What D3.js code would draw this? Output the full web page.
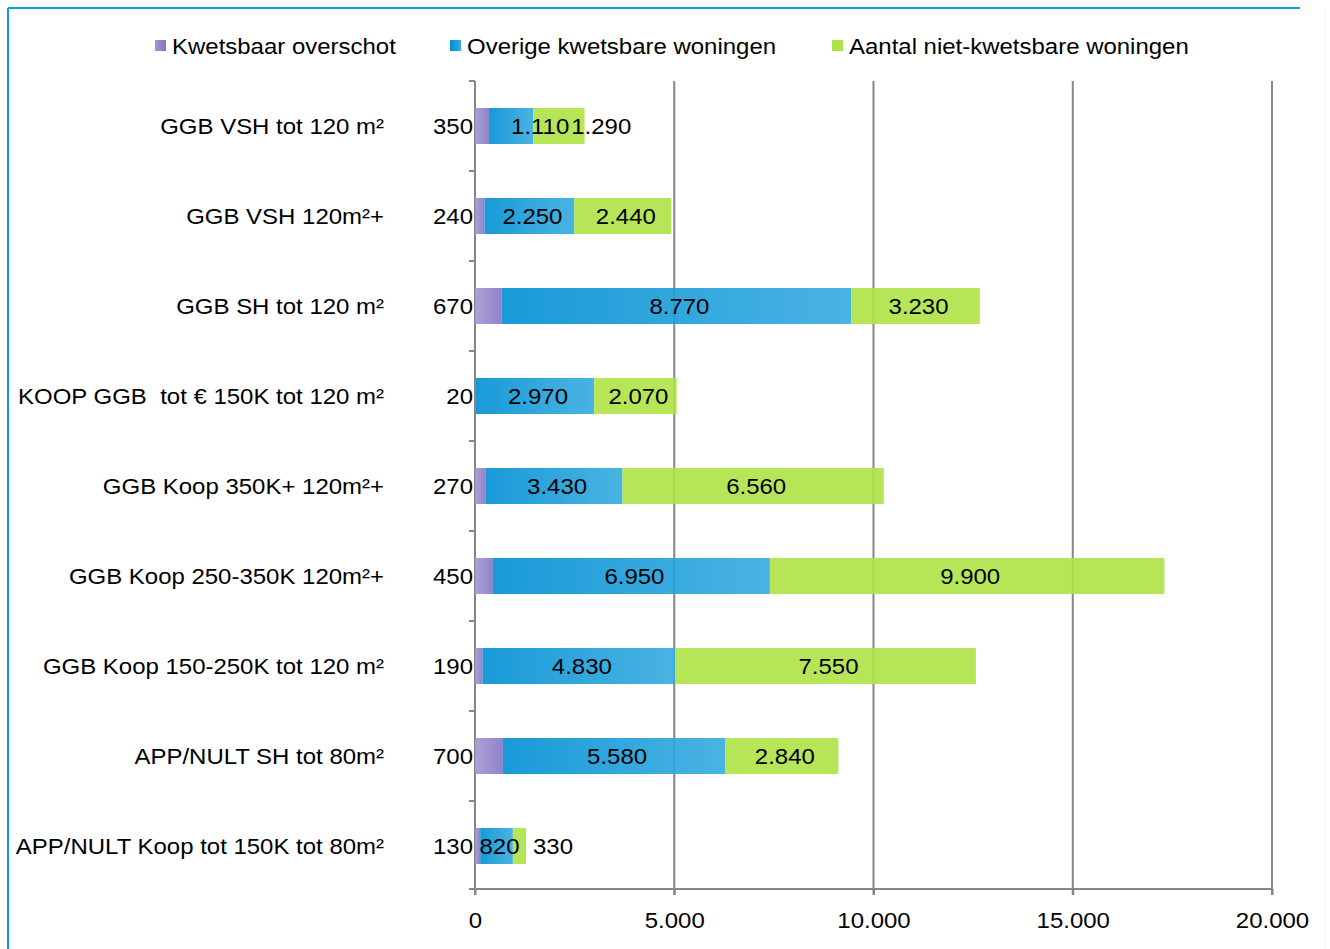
<!DOCTYPE html>
<html>
<head>
<meta charset="utf-8">
<script src="https://cdn.jsdelivr.net/npm/d3@7"></script>
<style>
  html, body { margin: 0; padding: 0; background: #fff; }
  svg { display: block; font-family: "Liberation Sans", Arial, sans-serif; }
  svg text { white-space: pre; }
</style>
</head>
<body>
<svg id="chart" width="1330" height="949"></svg>
<script>
// Housing categories, top to bottom
const categories = [
  "GGB VSH tot 120 m²",
  "GGB VSH 120m²+",
  "GGB SH tot 120 m²",
  "KOOP GGB  tot € 150K tot 120 m²",
  "GGB Koop 350K+ 120m²+",
  "GGB Koop 250-350K 120m²+",
  "GGB Koop 150-250K tot 120 m²",
  "APP/NULT SH tot 80m²",
  "APP/NULT Koop tot 150K tot 80m²"
];
// Stacked series values
const kwetsbaarOverschot = [350, 240, 670, 20, 270, 450, 190, 700, 130];
const overigeKwetsbaar   = [1110, 2250, 8770, 2970, 3430, 6950, 4830, 5580, 820];
const nietKwetsbaar      = [1290, 2440, 3230, 2070, 6560, 9900, 7550, 2840, 330];
const seriesNames = ["Kwetsbaar overschot", "Overige kwetsbare woningen", "Aantal niet-kwetsbare woningen"];
const xTicks = [0, 5000, 10000, 15000, 20000];

(function () {
  const svg = d3.select("#chart");
  const H = 949;
  const pLeft = 475, pRight = 1272, pTop = 81, pBottom = 891;
  const FS = 22, SX = 1.09;   // font size and horizontal stretch of all text

  // Text helper: a slightly wide typeface look, anchored at (x, y)
  function addText(parent, x, y, str, anchor) {
    const g = parent.append("g").attr("transform", `translate(${x},${y})`);
    const t = g.append("text")
      .attr("transform", `scale(${SX},1)`)
      .attr("text-anchor", anchor || "start")
      .attr("dominant-baseline", "central")
      .attr("font-size", FS).attr("fill", "#000")
      .text(str);
    return { g, t, width: t.node().getComputedTextLength() * SX };
  }

  // Outer frame
  svg.append("line").attr("x1", 8).attr("x2", 1300).attr("y1", 8).attr("y2", 8)
    .attr("stroke", "#0a9fdc").attr("stroke-width", 2);
  svg.append("line").attr("x1", 8).attr("x2", 8).attr("y1", 8).attr("y2", H)
    .attr("stroke", "#0a9fdc").attr("stroke-width", 2);
  svg.append("line").attr("x1", 1325).attr("x2", 1325).attr("y1", 8).attr("y2", H)
    .attr("stroke", "#eef6fb").attr("stroke-width", 1);

  // Gradients
  const defs = svg.append("defs");
  function grad(id, c0, c1) {
    const g = defs.append("linearGradient").attr("id", id)
      .attr("x1", "0%").attr("x2", "100%").attr("y1", "0%").attr("y2", "0%");
    g.append("stop").attr("offset", "0%").attr("stop-color", c0);
    g.append("stop").attr("offset", "100%").attr("stop-color", c1);
  }
  grad("gPurple", "#a497d5", "#8474c2");
  grad("gBlue", "#008fd3", "#36abdf");
  const fills = ["url(#gPurple)", "url(#gBlue)", "#aee346"];

  const x = d3.scaleLinear().domain([0, 20000]).range([pLeft, pRight]);
  const y = d3.scaleBand().domain(categories).range([pTop, pBottom]).paddingInner(0.6).paddingOuter(0.3);

  // Vertical gridlines
  svg.append("g").selectAll("line").data(xTicks.slice(1)).join("line")
    .attr("x1", d => x(d)).attr("x2", d => x(d))
    .attr("y1", pTop).attr("y2", pBottom + 4)
    .attr("stroke", "#868686").attr("stroke-width", 2);

  // Axes
  const fmt = v => d3.format(",")(v).replace(/,/g, ".");
  const xAxis = d3.axisBottom(x).tickValues(xTicks).tickSize(6).tickFormat(fmt);
  const gx = svg.append("g").attr("transform", `translate(0,${pBottom - 2})`).call(xAxis);
  gx.select(".domain").remove();
  gx.append("line").attr("x1", pLeft - 6).attr("x2", pRight).attr("y1", 0).attr("y2", 0)
    .attr("stroke", "#868686").attr("stroke-width", 2);
  gx.selectAll(".tick line").attr("stroke", "#868686").attr("stroke-width", 2);
  gx.selectAll(".tick text").attr("fill", "#000").attr("font-size", FS)
    .attr("font-family", "Liberation Sans, Arial, sans-serif").attr("dy", "1.35em")
    .attr("transform", `scale(${SX},1)`);

  svg.append("line").attr("x1", pLeft).attr("x2", pLeft).attr("y1", pTop).attr("y2", pBottom + 4)
    .attr("stroke", "#868686").attr("stroke-width", 2);
  // Category tick marks
  svg.append("g").selectAll("line").data(d3.range(categories.length)).join("line")
    .attr("x1", pLeft - 6).attr("x2", pLeft)
    .attr("y1", i => pTop + i * (pBottom - pTop) / categories.length)
    .attr("y2", i => pTop + i * (pBottom - pTop) / categories.length)
    .attr("stroke", "#868686").attr("stroke-width", 2);

  // Category labels
  const catG = svg.append("g");
  categories.forEach(c => addText(catG, 384, y(c) + y.bandwidth() / 2, c, "end"));

  // Stacked bars
  const rows = categories.map((c, i) => ({
    cat: c, v: [kwetsbaarOverschot[i], overigeKwetsbaar[i], nietKwetsbaar[i]]
  }));
  const bars = svg.append("g");
  rows.forEach(r => {
    let acc = 0;
    r.v.forEach((v, s) => {
      bars.append("rect")
        .attr("x", x(acc)).attr("y", y(r.cat))
        .attr("width", x(acc + v) - x(acc)).attr("height", y.bandwidth())
        .attr("fill", fills[s]).attr("fill-opacity", 0.9);
      acc += v;
    });
  });

  // Value labels: the first series sits left of the axis; the others are centred
  // in their segment. A label much wider than its segment starts at the segment
  // centre, and one more than twice as wide goes just past the segment's end.
  // Labels are then pushed right so they never overlap.
  const labG = svg.append("g");
  rows.forEach(r => {
    let acc = 0, prevEnd = -Infinity;
    const cy = y(r.cat) + y.bandwidth() / 2;
    r.v.forEach((v, s) => {
      const x0 = x(acc), x1 = x(acc + v), w = x1 - x0;
      const lab = addText(labG, 0, cy, fmt(v), "start");
      let start;
      if (s === 0) start = x(0) - 2 - lab.width;
      else if (lab.width > 2 * w) start = x1 + 7;
      else if (lab.width - w > 10) start = Math.max((x0 + x1) / 2, x1 - lab.width + 12);
      else start = (x0 + x1) / 2 - lab.width / 2 + 3;
      if (s > 0 && start < prevEnd) start = prevEnd + 2;
      lab.g.attr("transform", `translate(${start},${cy})`);
      prevEnd = start + lab.width;
      acc += v;
    });
  });

  // Legend
  const legendX = [155, 450, 832];
  const lg = svg.append("g");
  seriesNames.forEach((n, i) => {
    lg.append("rect").attr("x", legendX[i]).attr("y", 40).attr("width", 11).attr("height", 11)
      .attr("fill", fills[i]);
    addText(lg, legendX[i] + 17, 46, n, "start");
  });
})();
</script>
</body>
</html>
